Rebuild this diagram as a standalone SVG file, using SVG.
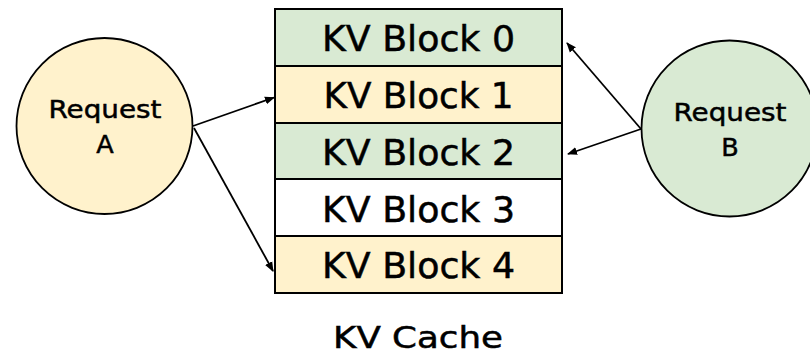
<svg xmlns="http://www.w3.org/2000/svg" width="810" height="355" viewBox="0 0 810 355">
  <defs>
    <marker id="arrow" viewBox="0 0 10 10" refX="9" refY="5" markerWidth="10" markerHeight="10" markerUnits="userSpaceOnUse" orient="auto">
      <path d="M0,1 L10,5 L0,9 z" fill="#000"/>
    </marker>
  </defs>
  <style>
    .blk { stroke: #000; stroke-width: 2; }
    .green { fill: #d9ead3; }
    .yellow { fill: #fff2cc; }
    .white { fill: #ffffff; }
    .circ { stroke: #000; stroke-width: 1.8; }
    .lbl { font-family: "DejaVu Sans", "Noto Sans", sans-serif; fill: #000; stroke: #000; stroke-width: 0.5; text-anchor: middle; }
    .big { font-size: 36px; }
    .mid { font-size: 25.5px; }
    .edge { stroke: #000; stroke-width: 1.8; fill: none; marker-end: url(#arrow); }
  </style>
  <rect width="810" height="355" fill="#fff"/>

  <g id="kv-cache">
    <g id="block-0">
      <rect class="blk green" x="275" y="9" width="287" height="57"/>
      <text class="lbl big" x="418.5" y="51" textLength="193" lengthAdjust="spacingAndGlyphs">KV Block 0</text>
    </g>
    <g id="block-1">
      <rect class="blk yellow" x="275" y="66" width="287" height="57"/>
      <text class="lbl big" x="418.5" y="108" textLength="190" lengthAdjust="spacingAndGlyphs">KV Block 1</text>
    </g>
    <g id="block-2">
      <rect class="blk green" x="275" y="123" width="287" height="56"/>
      <text class="lbl big" x="418.5" y="165" textLength="193" lengthAdjust="spacingAndGlyphs">KV Block 2</text>
    </g>
    <g id="block-3">
      <rect class="blk white" x="275" y="179" width="287" height="57"/>
      <text class="lbl big" x="418.5" y="222" textLength="193" lengthAdjust="spacingAndGlyphs">KV Block 3</text>
    </g>
    <g id="block-4">
      <rect class="blk yellow" x="275" y="236" width="287" height="57"/>
      <text class="lbl big" x="418.5" y="278" textLength="193" lengthAdjust="spacingAndGlyphs">KV Block 4</text>
    </g>
    <text id="cache-label" class="lbl" style="font-size:30px" x="418" y="348" textLength="170" lengthAdjust="spacingAndGlyphs">KV Cache</text>
  </g>

  <g id="request-a">
    <circle class="circ yellow" cx="104.5" cy="126" r="88"/>
    <text class="lbl mid" x="105" y="118" textLength="113" lengthAdjust="spacingAndGlyphs">Request</text>
    <text class="lbl mid" x="105" y="153">A</text>
  </g>

  <g id="request-b">
    <circle class="circ green" cx="729.5" cy="128.5" r="88"/>
    <text class="lbl mid" x="730" y="121" textLength="113" lengthAdjust="spacingAndGlyphs">Request</text>
    <text class="lbl mid" x="730" y="156">B</text>
  </g>

  <g id="connectors">
    <line class="edge" x1="193" y1="126" x2="274" y2="97.5"/>
    <line class="edge" x1="194" y1="128" x2="273" y2="271"/>
    <line class="edge" x1="641" y1="129" x2="567" y2="43"/>
    <line class="edge" x1="641" y1="129" x2="568" y2="154"/>
  </g>
</svg>
